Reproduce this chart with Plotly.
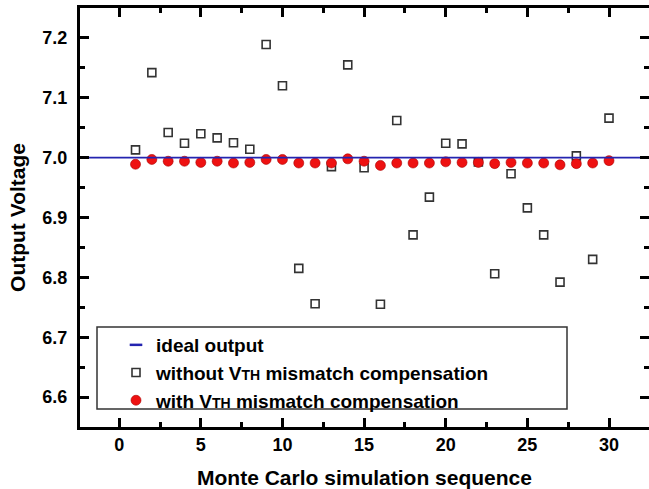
import plotly.graph_objects as go

# ---- data ----
runs = list(range(1, 31))
without_comp = [7.013, 7.142, 7.042, 7.024, 7.040, 7.033, 7.025, 7.014, 7.189, 7.120,
                6.815, 6.756, 6.985, 7.155, 6.983, 6.755, 7.062, 6.871, 6.934, 7.024,
                7.023, 6.993, 6.806, 6.973, 6.916, 6.871, 6.792, 7.003, 6.830, 7.066]
with_comp = [6.989, 6.997, 6.994, 6.994, 6.992, 6.994, 6.991, 6.992, 6.997, 6.997,
             6.991, 6.991, 6.991, 6.998, 6.994, 6.987, 6.991, 6.991, 6.991, 6.993,
             6.992, 6.992, 6.990, 6.992, 6.991, 6.991, 6.988, 6.990, 6.991, 6.995]
ideal_x = [-2.4, 32.45]
ideal_y = [7.0, 7.0]

x_ticks = [0, 5, 10, 15, 20, 25, 30]
y_ticks = [6.6, 6.7, 6.8, 6.9, 7.0, 7.1, 7.2]
y_tick_labels = ["6.6", "6.7", "6.8", "6.9", "7.0", "7.1", "7.2"]

FONT = "Liberation Sans, Arial, sans-serif"
BLUE = "#2424b0"

fig = go.Figure()

fig.add_trace(go.Scatter(
    x=runs, y=without_comp, mode="markers",
    name="without V<span style='font-size:14px'>TH</span> mismatch compensation",
    marker=dict(symbol="square-open", size=8, color="#333333", line=dict(width=1.6, color="#333333")),
    legendrank=2,
))
fig.add_trace(go.Scatter(
    x=runs, y=with_comp, mode="markers",
    name="with V<span style='font-size:14px'>TH</span> mismatch compensation",
    marker=dict(symbol="circle", size=10, color="#ee1111", line=dict(width=0.6, color="#aa0000")),
    legendrank=3,
))
fig.add_trace(go.Scatter(
    x=ideal_x, y=ideal_y, mode="lines", name="ideal output",
    line=dict(color=BLUE, width=1.8), showlegend=False,
))
# legend-only entry for the ideal line (short dash symbol)
fig.add_trace(go.Scatter(
    x=[None], y=[None], mode="markers", name="ideal output",
    marker=dict(symbol="line-ew", size=9, color=BLUE, line=dict(width=2.5, color=BLUE)),
    legendrank=1,
))

L, R, T, B = 80, 0, 8, 62
W, H = 649, 489
pw = W - L - R
ph = H - T - B

def px_x(p):
    return (p - L) / pw

def px_y(p):
    return (H - B - p) / ph

axis_common = dict(
    showline=True, linewidth=3, linecolor="black", mirror="ticks",
    ticks="inside", ticklen=9, tickwidth=3, tickcolor="black",
    showgrid=False, zeroline=False,
    tickfont=dict(family=FONT, size=18, color="black", weight="bold"),
)

fig.update_xaxes(
    range=[-2.4, 32.45], tickvals=x_ticks,
    minor=dict(ticks="inside", ticklen=5, tickwidth=3, tickcolor="black", dtick=2.5, tick0=0),
    title=dict(text="Monte Carlo simulation sequence", standoff=17,
               font=dict(family=FONT, size=21, color="black", weight="bold")),
    ticklabelstandoff=-1,
    **axis_common,
)
fig.update_yaxes(
    range=[6.55, 7.25], tickvals=y_ticks, ticktext=y_tick_labels,
    minor=dict(ticks="inside", ticklen=5, tickwidth=3, tickcolor="black", dtick=0.05, tick0=6.55),
    title=dict(text="Output Voltage", standoff=12,
               font=dict(family=FONT, size=21, color="black", weight="bold")),
    ticklabelstandoff=6,
    **axis_common,
)

# legend frame
fig.add_shape(type="rect", xref="paper", yref="paper",
              x0=px_x(97), x1=px_x(567), y0=px_y(409), y1=px_y(327),
              line=dict(color="#333333", width=1.5), fillcolor="white", layer="above")

fig.update_layout(
    width=W, height=H,
    margin=dict(l=L, r=R, t=T, b=B, autoexpand=False),
    paper_bgcolor="white", plot_bgcolor="white",
    showlegend=True,
    legend=dict(x=px_x(116), y=px_y(326), xanchor="left", yanchor="top",
                bgcolor="rgba(0,0,0,0)", borderwidth=0,
                font=dict(family=FONT, size=19, color="black", weight="bold"),
                tracegroupgap=0, itemsizing="trace"),
)

fig.write_html("out.html")
